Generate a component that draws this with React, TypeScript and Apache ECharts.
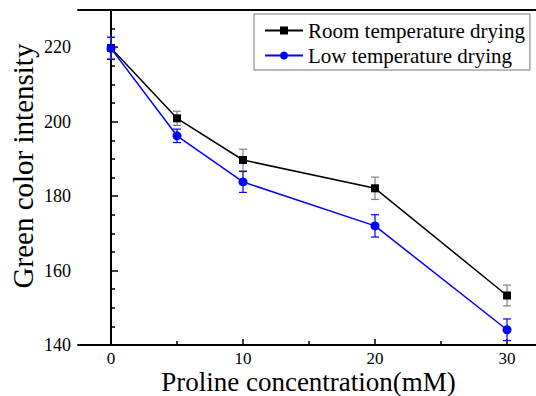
import React, { useEffect, useRef } from "react";
import * as echarts from "echarts";

const xValues = [0, 5, 10, 20, 30];
const roomValues = [219.8, 200.9, 189.7, 182.1, 153.3];
const roomErrors = [2.8, 1.9, 2.9, 3.0, 2.8];
const lowValues = [219.7, 196.2, 183.8, 172.0, 144.1];
const lowErrors = [3.0, 1.8, 2.8, 3.0, 2.9];
const xTickValues = [0, 10, 20, 30];
const xMinorTickValues = [5, 15, 25];
const yTickValues = [140, 160, 180, 200, 220];
const yMinorTickValues = [145, 150, 155, 165, 170, 175, 185, 190, 195, 205, 210, 215, 225];
const seriesNames = ["Room temperature drying", "Low temperature drying"];
const xTitle = "Proline concentration(mM)";
const yTitle = "Green color intensity";

const FONT = "'Liberation Serif', 'Times New Roman', serif";

function errorSeries(values: number[], errors: number[], color: string) {
  return {
    type: "custom",
    xAxisIndex: 0,
    yAxisIndex: 0,
    silent: true,
    data: xValues.map((x, i) => [x, values[i] - errors[i], values[i] + errors[i]]),
    encode: { x: 0, y: [1, 2] },
    renderItem: (params: any, api: any) => {
      const x = api.value(0);
      const lo = api.coord([x, api.value(1)]);
      const hi = api.coord([x, api.value(2)]);
      const w = 4;
      const style = { stroke: color, lineWidth: 1.2 };
      return {
        type: "group",
        children: [
          { type: "line", shape: { x1: lo[0], y1: lo[1], x2: hi[0], y2: hi[1] }, style },
          { type: "line", shape: { x1: lo[0] - w, y1: lo[1], x2: lo[0] + w, y2: lo[1] }, style },
          { type: "line", shape: { x1: hi[0] - w, y1: hi[1], x2: hi[0] + w, y2: hi[1] }, style },
        ],
      };
    },
  };
}

export default function App() {
  const ref = useRef<HTMLDivElement>(null);
  useEffect(() => {
    if (!ref.current) return;
    const chart = echarts.init(ref.current, null, { renderer: "svg" });
    const axisLineStyle = { color: "#000", width: 2 };
    chart.setOption({
      animation: false,
      backgroundColor: "#fff",
      textStyle: { fontFamily: FONT },
      grid: { left: 78, top: 10, width: 462, height: 335, containLabel: false, outerBoundsMode: "none" },
      legend: {
        left: 254,
        top: 14,
        orient: "vertical",
        data: seriesNames,
        itemWidth: 38,
        itemHeight: 10,
        itemGap: 4,
        padding: [6, 5, 4, 10],
        borderColor: "#777",
        borderWidth: 1,
        textStyle: { fontFamily: FONT, fontSize: 21, color: "#000" },
      },
      graphic: [
        {
          type: "text",
          x: 308.5,
          y: 382,
          style: { text: xTitle, font: `27px ${FONT}`, fill: "#000", textAlign: "center", textVerticalAlign: "middle" },
        },
        {
          type: "text",
          x: 23,
          y: 166,
          rotation: Math.PI / 2,
          style: { text: yTitle, font: `29px ${FONT}`, fill: "#000", textAlign: "center", textVerticalAlign: "middle" },
        },
      ],
      xAxis: [
        {
          type: "value",
          min: -2.5,
          max: 32.5,
          position: "bottom",
          axisLine: { show: true, lineStyle: axisLineStyle },
          axisTick: { show: true, inside: true, length: 6, customValues: xTickValues, lineStyle: { color: "#000", width: 1.5 } },
          axisLabel: { customValues: xTickValues, fontSize: 17, color: "#000", fontFamily: FONT, margin: 5 },
          splitLine: { show: false },
        },
        {
          type: "value",
          min: -2.5,
          max: 32.5,
          position: "bottom",
          axisLine: { show: false },
          axisTick: { show: true, inside: true, length: 4, customValues: xMinorTickValues, lineStyle: { color: "#000", width: 1.5 } },
          axisLabel: { show: false },
          splitLine: { show: false },
        },
        {
          type: "value",
          min: -2.5,
          max: 32.5,
          position: "top",
          axisLine: { show: true, lineStyle: axisLineStyle },
          axisTick: { show: false },
          axisLabel: { show: false },
          splitLine: { show: false },
        },
      ],
      yAxis: [
        {
          type: "value",
          min: 140,
          max: 230,
          position: "left",
          axisLine: { show: true, lineStyle: axisLineStyle },
          axisTick: { show: true, inside: true, length: 7, customValues: yTickValues, lineStyle: { color: "#000", width: 1.5 } },
          axisLabel: { customValues: yTickValues, fontSize: 18, color: "#000", fontFamily: FONT, margin: 7 },
          splitLine: { show: false },
        },
        {
          type: "value",
          min: 140,
          max: 230,
          position: "left",
          axisLine: { show: false },
          axisTick: { show: true, inside: true, length: 4, customValues: yMinorTickValues, lineStyle: { color: "#000", width: 1.5 } },
          axisLabel: { show: false },
          splitLine: { show: false },
        },
      ],
      series: [
        errorSeries(roomValues, roomErrors, "#808080"),
        {
          name: seriesNames[0],
          type: "line",
          xAxisIndex: 0,
          yAxisIndex: 0,
          data: xValues.map((x, i) => [x, roomValues[i]]),
          symbol: "rect",
          symbolSize: 8,
          itemStyle: { color: "#000" },
          lineStyle: { color: "#000", width: 1.5 },
        },
        errorSeries(lowValues, lowErrors, "#0000ff"),
        {
          name: seriesNames[1],
          type: "line",
          xAxisIndex: 0,
          yAxisIndex: 0,
          data: xValues.map((x, i) => [x, lowValues[i]]),
          symbol: "circle",
          symbolSize: 9,
          itemStyle: { color: "#0000ff" },
          lineStyle: { color: "#0000ff", width: 1.5 },
        },
      ],
    });
    return () => chart.dispose();
  }, []);
  return <div ref={ref} style={{ width: 536, height: 396, position: "fixed", left: 0, top: 0 }} />;
}
